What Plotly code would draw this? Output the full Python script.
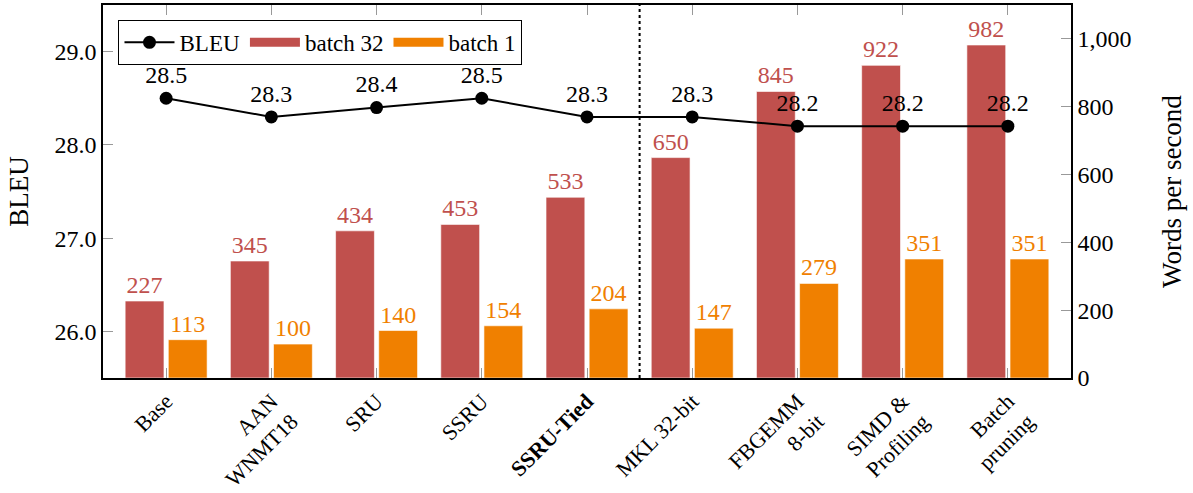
import plotly.graph_objects as go

# Systems compared, with translation quality and CPU throughput
systems = ["Base", "AAN<br>WNMT18", "SRU", "SSRU", "<b>SSRU-Tied</b>",
           "MKL 32-bit", "FBGEMM<br>8-bit", "SIMD &<br>Profiling", "Batch<br>pruning"]
bleu = [28.5, 28.3, 28.4, 28.5, 28.3, 28.3, 28.2, 28.2, 28.2]
wps_batch32 = [227, 345, 434, 453, 533, 650, 845, 922, 982]
wps_batch1 = [113, 100, 140, 154, 204, 147, 279, 351, 351]

RED = "#C0504D"
ORANGE = "#F08000"
FONT = "Liberation Serif"

x = list(range(len(systems)))

fig = go.Figure()

fig.add_trace(go.Bar(
    x=x, y=wps_batch32, name="batch 32", yaxis="y",
    marker=dict(color=RED, line=dict(color="rgba(255,255,255,0.6)", width=1)),
    text=[str(v) for v in wps_batch32], textposition="outside",
    textfont=dict(color=RED, size=24, family=FONT), cliponaxis=False,
    showlegend=False,
))
fig.add_trace(go.Bar(
    x=x, y=wps_batch1, name="batch 1", yaxis="y",
    marker=dict(color=ORANGE, line=dict(color="rgba(255,255,255,0.6)", width=1)),
    text=[str(v) for v in wps_batch1], textposition="outside",
    textfont=dict(color=ORANGE, size=24, family=FONT), cliponaxis=False,
    showlegend=False,
))
fig.add_trace(go.Scatter(
    x=x, y=bleu, name="BLEU", yaxis="y2",
    mode="lines+markers+text",
    line=dict(color="black", width=2),
    marker=dict(color="black", size=13),
    text=[f"{v:.1f}" for v in bleu], textposition="top center",
    textfont=dict(color="black", size=24, family=FONT), cliponaxis=False,
    legendrank=1,
))
# Legend swatches drawn as thick strokes
fig.add_trace(go.Scatter(x=[None], y=[None], mode="lines", name="batch 32",
                         line=dict(color=RED, width=9), legendrank=2))
fig.add_trace(go.Scatter(x=[None], y=[None], mode="lines", name="batch 1",
                         line=dict(color=ORANGE, width=9), legendrank=3))

# Divider between model changes and engineering optimisations
fig.add_shape(type="line", x0=4.5, x1=4.5, xref="x", y0=0, y1=1, yref="paper",
              line=dict(color="black", width=2, dash="dot"))

fig.update_layout(
    width=1193, height=493,
    margin=dict(l=103, r=122, t=5, b=115),
    paper_bgcolor="white", plot_bgcolor="white",
    font=dict(family=FONT, size=24, color="black"),
    barmode="group", bargap=0.18, bargroupgap=0.1,
    xaxis=dict(
        range=[-0.6, 8.6], tickmode="array", tickvals=x, ticktext=systems,
        tickangle=-45, ticks="inside", ticklen=10, tickcolor="#999999",
        showline=True, linecolor="black", linewidth=1.5, mirror="ticks",
        showgrid=False, zeroline=False, tickfont=dict(size=22),
        automargin=False,
    ),
    yaxis=dict(
        range=[0, 1100], side="right", tickvals=[0, 200, 400, 600, 800, 1000],
        tickformat=",d", ticks="inside", ticklen=10, tickcolor="#999999",
        showline=True, linecolor="black", linewidth=1.5, showgrid=False,
        zeroline=False, tickfont=dict(size=24), automargin=False,
        title=dict(text="Words per second", standoff=32, font=dict(size=27)),
    ),
    yaxis2=dict(
        range=[25.5, 29.5], side="left", overlaying="y",
        tickvals=[26, 27, 28, 29], tickformat=".1f",
        ticks="inside", ticklen=10, tickcolor="#999999",
        showline=True, linecolor="black", linewidth=1.5, showgrid=False,
        zeroline=False, tickfont=dict(size=24), automargin=False,
        title=dict(text="BLEU", standoff=18, font=dict(size=27)),
    ),
    legend=dict(
        orientation="h", x=0.016, y=0.96, xanchor="left", yanchor="top",
        bgcolor="white", bordercolor="black", borderwidth=1,
        font=dict(size=23), itemwidth=50, traceorder="normal",
    ),
)

fig.write_html("out.html")
